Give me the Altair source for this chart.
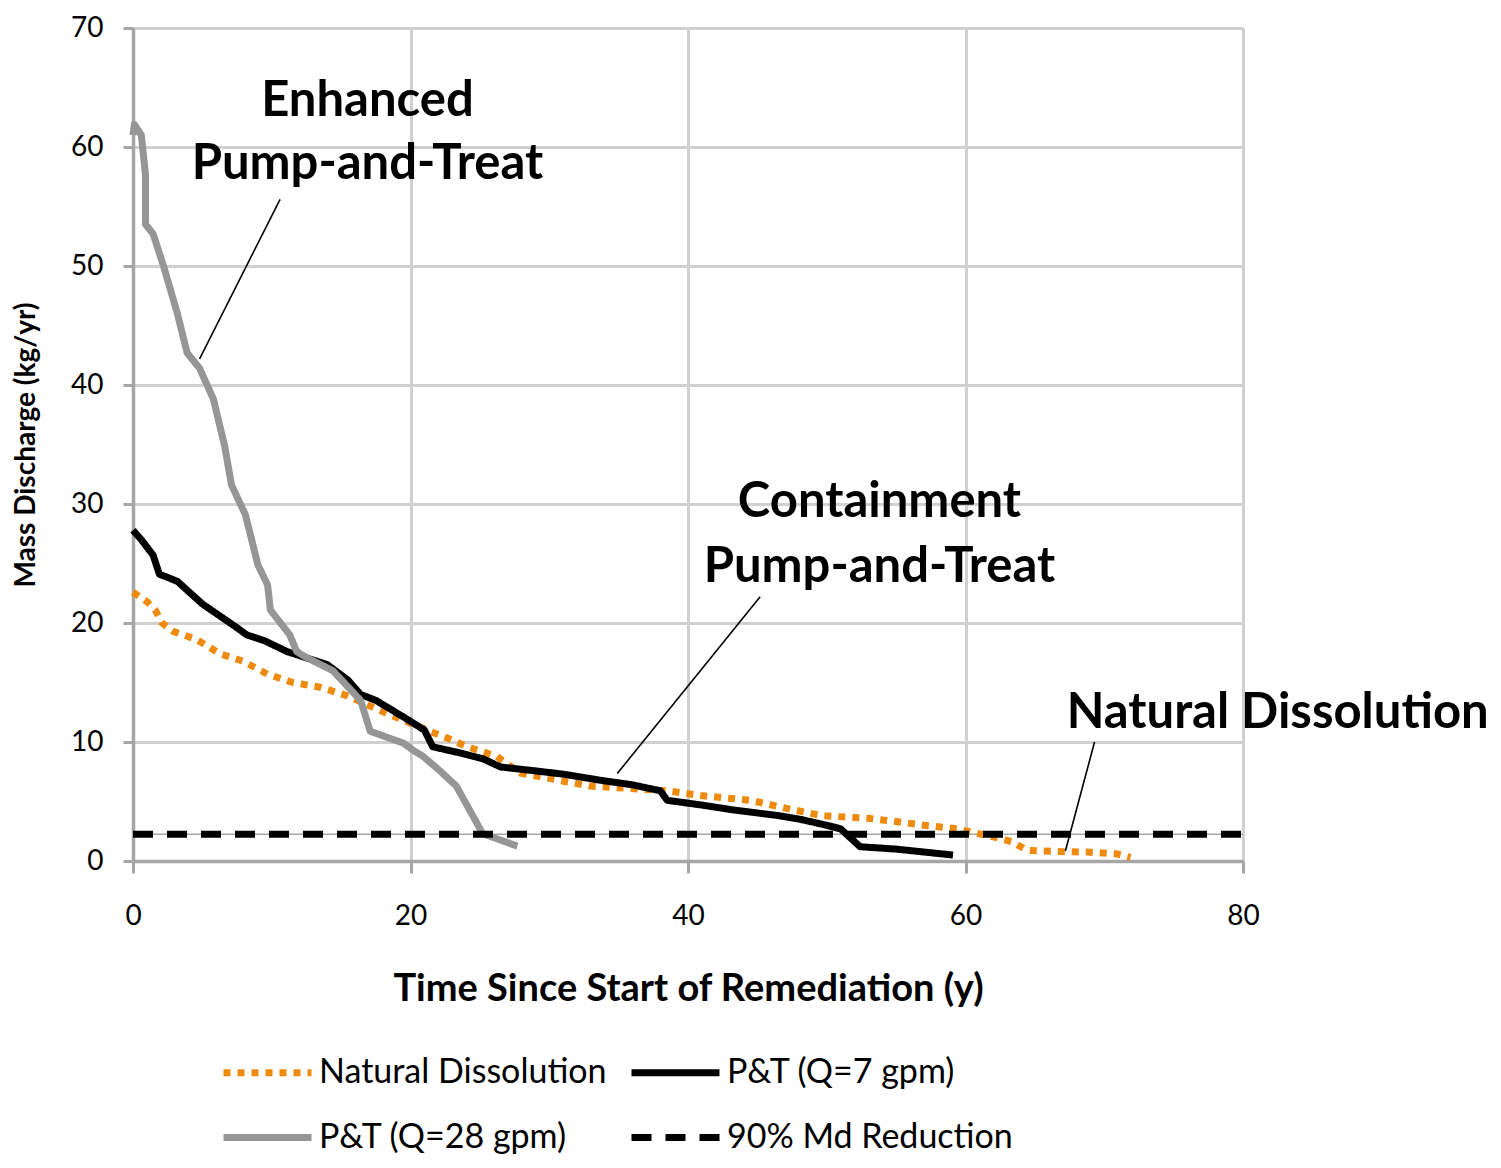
import altair as alt
import pandas as pd

# ---- data ----
nd_t = [0, 1.0, 1.6, 2.1, 2.9, 4.6, 6.3, 7.9, 9.7, 11.5, 13.5, 15.4, 18.3, 21.4, 22.3, 24.1, 26.2,
        27.9, 32.9, 38.5, 40.9, 44.5, 47.6, 49.7, 52.9, 55.1, 57.0, 59.1, 60.1, 62.5, 63.4, 64.4,
        66.6, 68.8, 70.9, 71.9]
nd_y = [22.6, 21.8, 21.1, 20.0, 19.3, 18.6, 17.4, 16.8, 15.7, 15.0, 14.6, 13.9, 12.4, 10.9, 10.5,
        9.6, 8.8, 7.4, 6.3, 5.9, 5.5, 5.1, 4.3, 3.8, 3.6, 3.3, 3.0, 2.75, 2.5, 1.9, 1.6, 0.9, 0.8,
        0.75, 0.6, 0.3]

pt7_t = [0, 0.6, 1.45, 1.9, 3.2, 5.0, 7.5, 8.2, 9.5, 11.1, 14.0, 15.5, 16.4, 17.5, 19.5, 21.0,
         21.6, 23.5, 25.2, 26.5, 28.8, 31.0, 33.6, 36.0, 38.0, 38.5, 41.0, 43.2, 46.6, 48.1, 50.0,
         51.0, 52.4, 55.0, 59.1]
pt7_y = [27.8, 27.0, 25.7, 24.1, 23.5, 21.6, 19.6, 19.0, 18.5, 17.6, 16.5, 15.2, 14.0, 13.5, 12.1,
         11.0, 9.6, 9.1, 8.6, 7.9, 7.6, 7.3, 6.8, 6.4, 5.9, 5.1, 4.7, 4.3, 3.8, 3.5, 3.0, 2.7, 1.2,
         1.0, 0.5]

pt28_t = [0, 0.1, 0.6, 0.9, 0.9, 1.45, 2.2, 3.2, 3.9, 4.8, 5.8, 6.6, 7.1, 8.1, 9.0, 9.7, 9.9,
          11.3, 11.8, 12.5, 14.4, 16.4, 17.1, 19.5, 20.2, 20.9, 22.1, 23.3, 25.2, 27.7]
pt28_y = [61.0, 61.9, 61.0, 57.7, 53.5, 52.7, 50.0, 46.0, 42.7, 41.4, 38.8, 34.9, 31.6, 29.1,
          24.9, 23.2, 21.1, 19.0, 17.6, 17.1, 16.0, 13.5, 10.9, 9.9, 9.3, 8.8, 7.6, 6.3, 2.3, 1.25]

md_t = [0, 80]
md_y = [2.25, 2.25]

series_names = ["Natural Dissolution", "P&T (Q=7 gpm)", "P&T (Q=28 gpm)", "90% Md Reduction"]
series_colors = ["#EE8A0E", "#000000", "#969696", "#000000"]
series_dash = [[7, 7], [1, 0], [1, 0], [20, 14]]

ann_text = ["Enhanced", "Pump-and-Treat", "Containment", "Pump-and-Treat", "Natural Dissolution"]
ann_t = [16.9, 16.9, 53.8, 53.8, 82.5]
ann_y = [63.9, 58.6, 30.2, 24.7, 12.4]

lead_t1 = [10.6, 45.2, 69.3]
lead_y1 = [55.6, 22.2, 10.0]
lead_t2 = [4.8, 34.9, 67.2]
lead_y2 = [42.2, 7.35, 0.84]

# ---- tables ----
rows = []
for name, ts, ys in zip(series_names, [nd_t, pt7_t, pt28_t, md_t], [nd_y, pt7_y, pt28_y, md_y]):
    for i, (t, y) in enumerate(zip(ts, ys)):
        rows.append({"series": name, "t": t, "y": y, "idx": i})
df = pd.DataFrame(rows)
ann_df = pd.DataFrame({"text": ann_text, "t": ann_t, "y": ann_y})
lead_df = pd.DataFrame({"t1": lead_t1, "y1": lead_y1, "t2": lead_t2, "y2": lead_y2})
md_df = pd.DataFrame({"t": md_t, "y": md_y})

FONT = "Lato"
xscale = alt.Scale(domain=[0, 80], nice=False)
yscale = alt.Scale(domain=[0, 70], nice=False)

legend = alt.Legend(
    title=None, orient="none", legendX=87, legendY=997, columns=2, direction="horizontal",
    symbolType="stroke", symbolSize=7744, symbolStrokeWidth=7,
    labelFontSize=34, labelFont=FONT, labelColor="black", labelOffset=4, labelLimit=600,
    columnPadding=10, rowPadding=-32,
)

thin = alt.Chart(md_df).mark_line(color="#a6a6a6", strokeWidth=1.5).encode(
    x=alt.X("t:Q", scale=xscale), y=alt.Y("y:Q", scale=yscale)
)

lines = alt.Chart(df).mark_line(strokeWidth=7, strokeCap="butt", strokeJoin="round").encode(
    x=alt.X("t:Q", scale=xscale,
            axis=alt.Axis(values=[0, 20, 40, 60, 80], title="Time Since Start of Remediation (y)",
                          tickSize=12, labelPadding=29, titlePadding=40, labelFlush=False)),
    y=alt.Y("y:Q", scale=yscale,
            axis=alt.Axis(values=[0, 10, 20, 30, 40, 50, 60, 70], title="Mass Discharge (kg/yr)",
                          tickSize=10, labelPadding=20, titlePadding=30, titleFontSize=28)),
    color=alt.Color("series:N", scale=alt.Scale(domain=series_names, range=series_colors), legend=legend),
    strokeDash=alt.StrokeDash("series:N", scale=alt.Scale(domain=series_names, range=series_dash), legend=legend),
    order=alt.Order("idx:Q"),
)

leaders = alt.Chart(lead_df).mark_rule(color="black", strokeWidth=1.6).encode(
    x=alt.X("t1:Q", scale=xscale), y=alt.Y("y1:Q", scale=yscale), x2="t2:Q", y2="y2:Q"
)

labels = alt.Chart(ann_df).mark_text(font=FONT, fontSize=49, fontWeight="bold", color="black",
                                     align="center", baseline="middle").encode(
    x=alt.X("t:Q", scale=xscale), y=alt.Y("y:Q", scale=yscale), text="text:N"
)

chart = alt.layer(thin, lines, leaders, labels).properties(
    width=1110, height=833,
    padding={"left": 125, "top": 20, "right": 250, "bottom": 299},
    autosize=alt.AutoSizeParams(type="none"),
).configure_view(stroke=None).configure_axis(
    domainColor="#a6a6a6", domainWidth=3.5, gridColor="#d0d0d0", gridWidth=3,
    tickColor="#a6a6a6", tickWidth=3, labelFont=FONT, labelFontSize=28, labelColor="black",
    titleFont=FONT, titleFontSize=38, titleFontWeight="bold", titleColor="black",
)

chart.save("out.html", embed_options={"renderer": "svg", "actions": False})
